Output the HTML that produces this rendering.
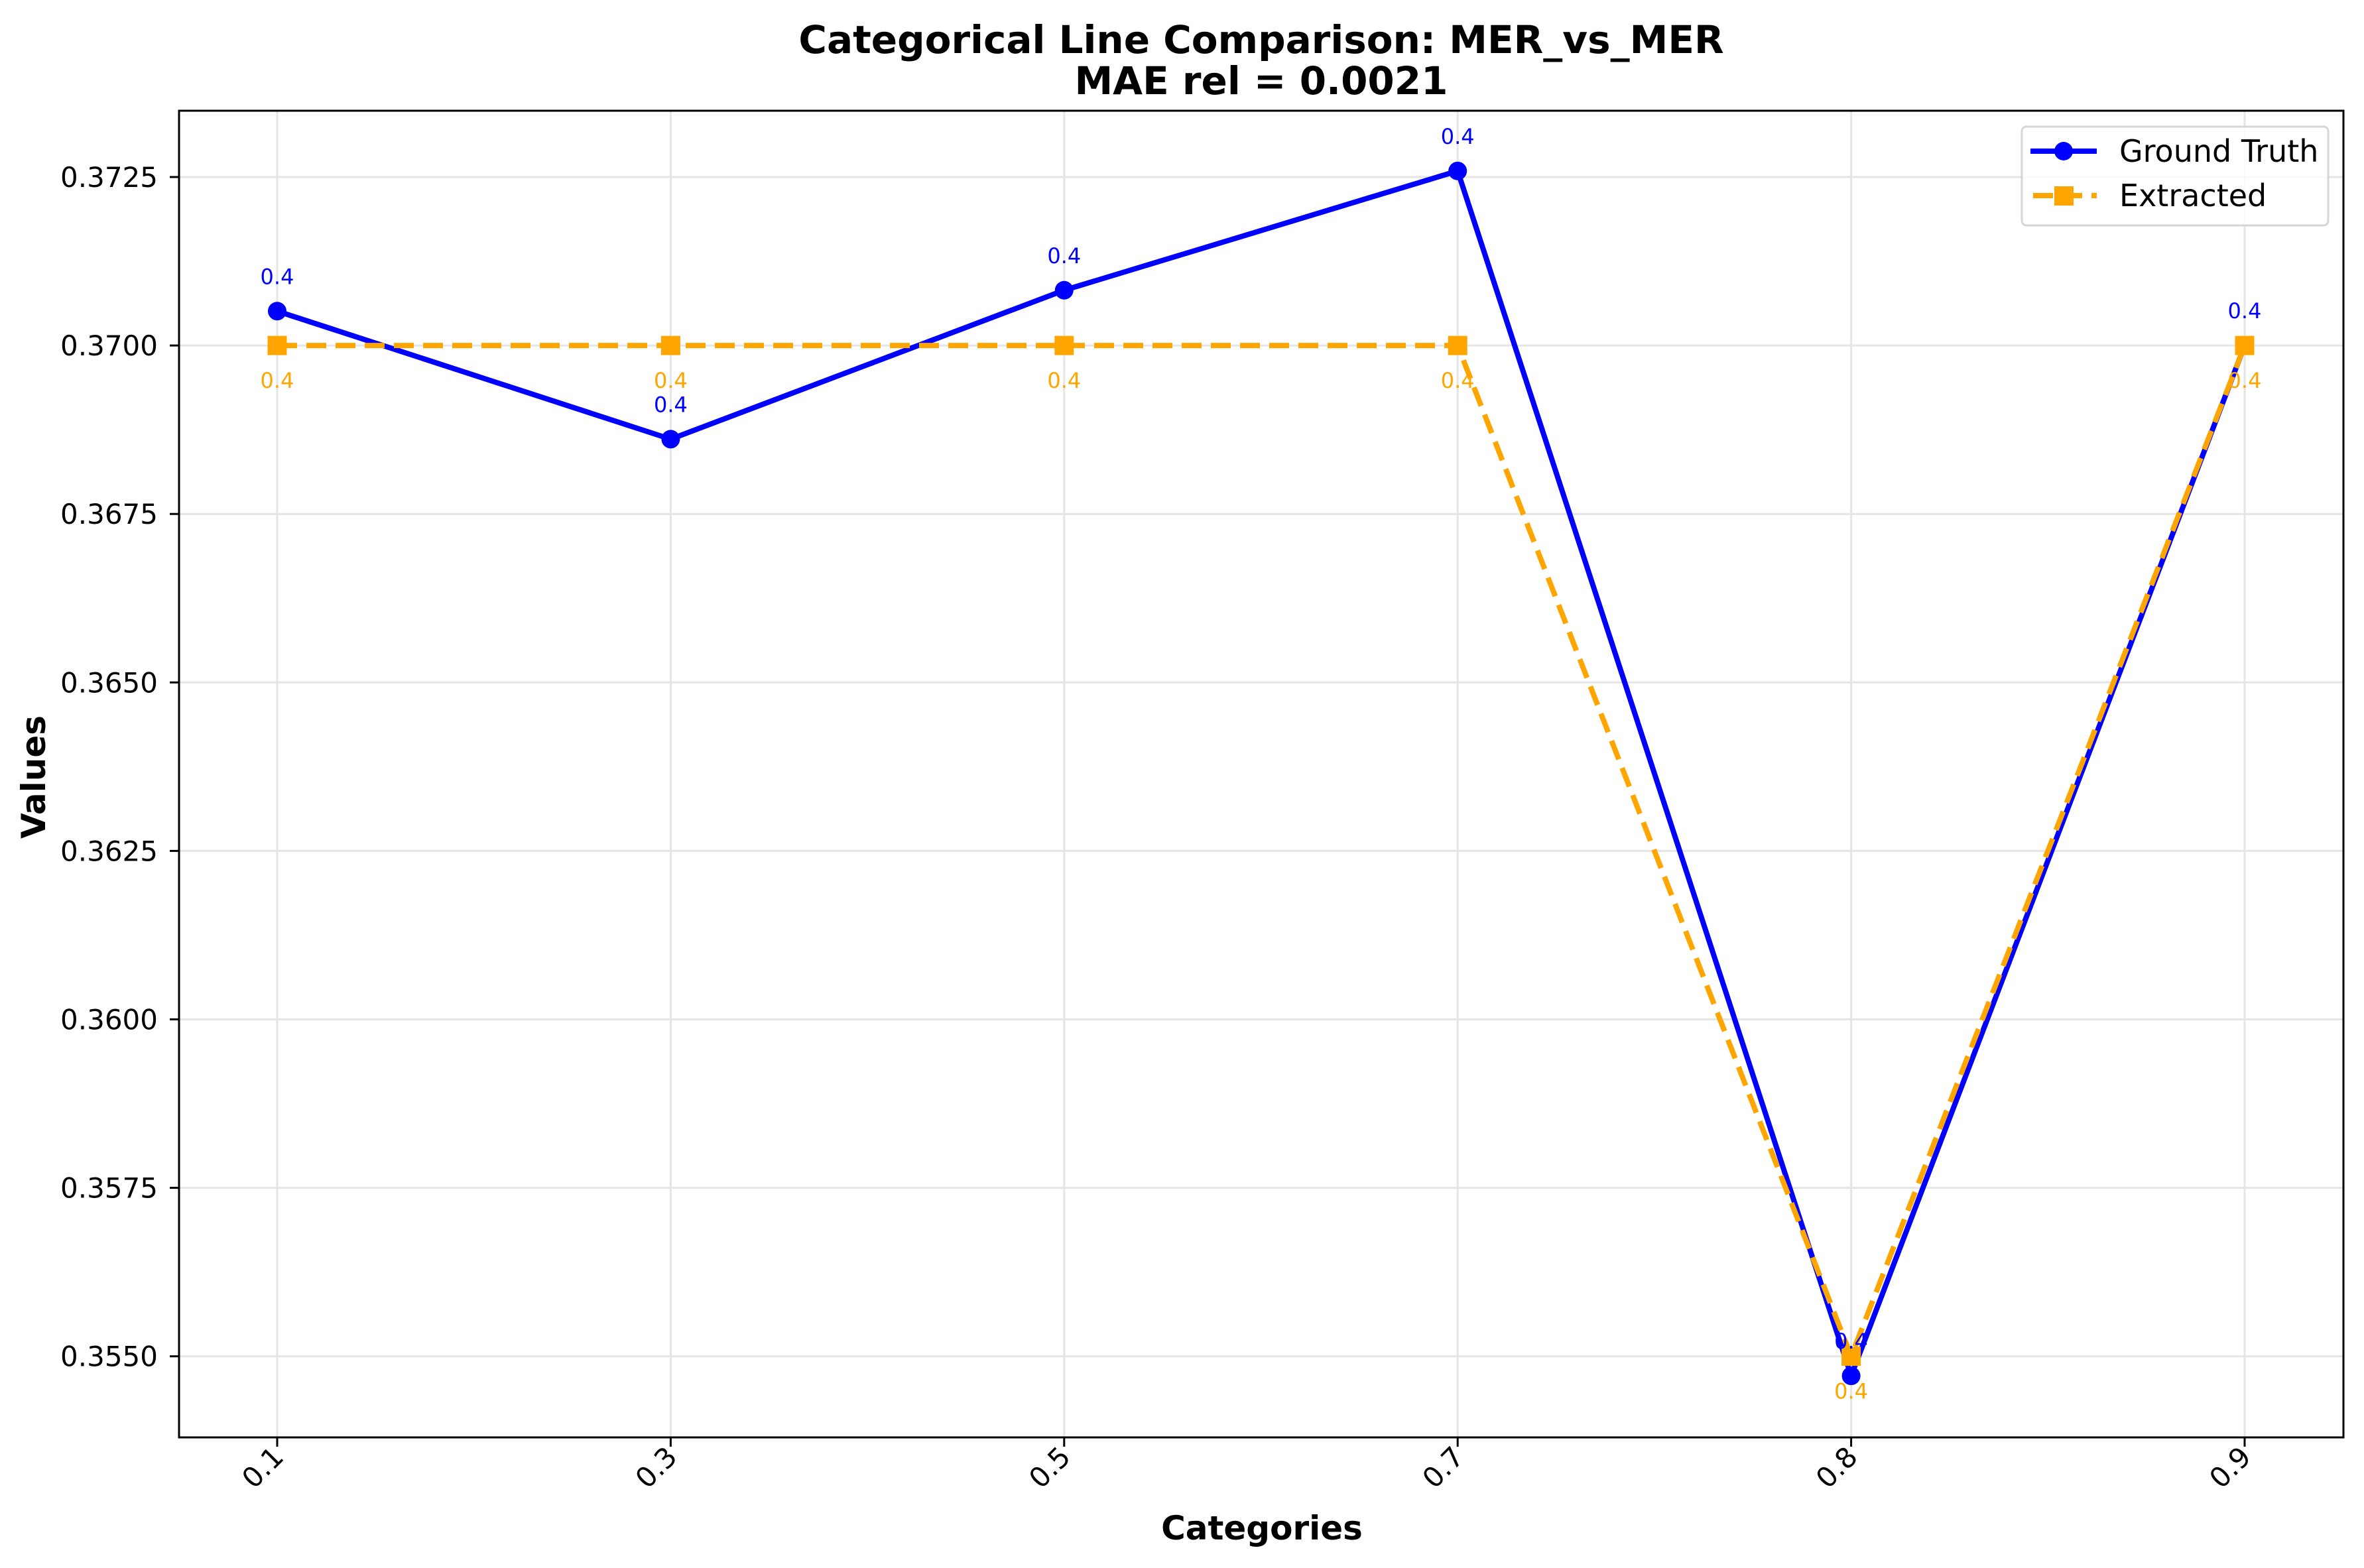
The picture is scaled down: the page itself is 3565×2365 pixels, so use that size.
<!DOCTYPE html>
<html><head><meta charset="utf-8"><style>
html,body{margin:0;padding:0;background:#fff;}
svg text{font-family:"DejaVu Sans","Liberation Sans",sans-serif;}
</style></head><body>
<svg id="chart" width="3565" height="2360" viewBox="0 0 3565 2360" xmlns="http://www.w3.org/2000/svg">
<rect x="0" y="0" width="3565" height="2360" fill="#fff"/>
<text x="1902" y="80" font-size="58" font-weight="bold" text-anchor="middle">Categorical Line Comparison: MER_vs_MER</text>
<text x="1902" y="142" font-size="58" font-weight="bold" text-anchor="middle">MAE rel = 0.0021</text>
<g id="grid"></g>
<g id="series"></g>
<rect x="270" y="167" width="3264" height="2001" fill="none" stroke="#000" stroke-width="3"/>
<g id="axes"></g>
<text x="1903" y="2322" font-size="50" font-weight="bold" text-anchor="middle">Categories</text>
<text transform="translate(68,1172) rotate(-90)" font-size="50" font-weight="bold" text-anchor="middle">Values</text>
<g>
<rect x="3049" y="191" width="462" height="149" rx="7" fill="#fff" fill-opacity="0.8" stroke="#d6d6d6" stroke-width="3"/>
<g>
<line x1="3062" y1="228" x2="3162" y2="228" stroke="#0000ff" stroke-width="8"/>
<circle cx="3112" cy="228" r="14" fill="#0000ff"/>
<text x="3196" y="244" font-size="46">Ground Truth</text>
</g>
<g>
<line x1="3066" y1="295" x2="3162" y2="295" stroke="#ffa500" stroke-width="8" stroke-dasharray="30,14"/>
<rect x="3098" y="281" width="29" height="29" fill="#ffa500"/>
<text x="3196" y="311" font-size="46">Extracted</text>
</g>
</g>
</svg>
<script>
const categories = ["0.1","0.3","0.5","0.7","0.8","0.9"];
const groundTruth = [0.37051, 0.36861, 0.37082, 0.37259, 0.35471, 0.3700];
const extracted = [0.3700, 0.3700, 0.3700, 0.3700, 0.3550, 0.3700];
const gtLabels = ["0.4","0.4","0.4","0.4","0.4","0.4"];
const exLabels = ["0.4","0.4","0.4","0.4","0.4","0.4"];
const yTicks = [0.3550, 0.3575, 0.3600, 0.3625, 0.3650, 0.3675, 0.3700, 0.3725];

const NS = "http://www.w3.org/2000/svg";
const X0 = 418, X1 = 3385;
function xPos(i){ return X0 + (X1 - X0) * i / (categories.length - 1); }
function yPos(v){ return 267 + (0.3725 - v) / 0.0025 * 254.1; }
function mk(tag, attrs, parent){
  const e = document.createElementNS(NS, tag);
  for (const k in attrs) e.setAttribute(k, attrs[k]);
  parent.appendChild(e); return e;
}
const grid = document.getElementById('grid');
const axes = document.getElementById('axes');
const series = document.getElementById('series');

yTicks.forEach(t => {
  const y = yPos(t);
  const g = mk('line', {x1:270, x2:3534, y1:y, y2:y, stroke:'#e5e5e5', 'stroke-width':3}, grid);
  
  
  mk('line', {x1:256, x2:270, y1:y, y2:y, stroke:'#000', 'stroke-width':3}, axes);
  const tx = mk('text', {x:238, y:y+15, 'font-size':42, 'text-anchor':'end'}, axes);
  tx.textContent = t.toFixed(4);
  
  
});
categories.forEach((c, i) => {
  const x = xPos(i);
  const g = mk('line', {x1:x, x2:x, y1:167, y2:2168, stroke:'#e5e5e5', 'stroke-width':3}, grid);
  
  
  mk('line', {x1:x, x2:x, y1:2168, y2:2182, stroke:'#000', 'stroke-width':3}, axes);
  const tx = mk('text', {transform:`translate(${x+12},2200) rotate(-45)`, 'font-size':42, 'text-anchor':'end'}, axes);
  tx.textContent = c;
  
  
});

const gtPts = groundTruth.map((v, i) => xPos(i) + ',' + yPos(v)).join(' ');
const gl = mk('polyline', {points:gtPts, fill:'none', stroke:'#0000ff', 'stroke-width':8, 'stroke-linejoin':'round'}, series);


const exPts = extracted.map((v, i) => xPos(i) + ',' + yPos(v)).join(' ');
const el2 = mk('polyline', {points:exPts, fill:'none', stroke:'#ffa500', 'stroke-width':8, 'stroke-dasharray':'30,14'}, series);



groundTruth.forEach((v, i) => {
  const c = mk('circle', {cx:xPos(i), cy:yPos(v), r:14, fill:'#0000ff'}, series);
  
  
});
extracted.forEach((v, i) => {
  const r = mk('rect', {x:xPos(i)-14.5, y:yPos(v)-14.5, width:29, height:29, fill:'#ffa500'}, series);
  
  
});
groundTruth.forEach((v, i) => {
  const t = mk('text', {x:xPos(i), y:yPos(v)-41, 'font-size':32, fill:'#0000ff', 'text-anchor':'middle'}, series);
  t.textContent = gtLabels[i];
  
  
});
extracted.forEach((v, i) => {
  const t = mk('text', {x:xPos(i), y:yPos(v)+64, 'font-size':32, fill:'#ffa500', 'text-anchor':'middle'}, series);
  t.textContent = exLabels[i];
  
  
});
</script>
</body></html>
